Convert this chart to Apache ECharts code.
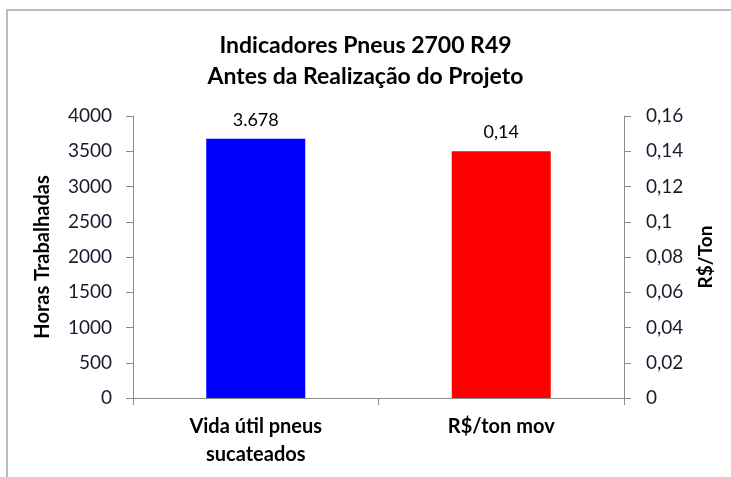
<!DOCTYPE html>
<html>
<head>
<meta charset="utf-8">
<script src="https://cdn.jsdelivr.net/npm/echarts@6/dist/echarts.min.js"></script>
<style>
html, body { margin: 0; padding: 0; background: #fff; }
#chart { width: 731px; height: 477px; }
</style>
</head>
<body>
<div id="chart"></div>
<script>
// dados do gráfico
var categorias = ['Vida útil pneus\nsucateados', 'R$/ton mov'];
var horasTrabalhadas = [3678, '-'];
var custoPorTon = ['-', 0.14];
var ticksEsquerda = [0, 4000, 500];
var ticksDireita = [0, 0.16, 0.02];

var fonte = 'Lato, "Open Sans", sans-serif';
var corTexto = '#1a1a2e';
var corEixo = '#8c8c8c';

var chart = echarts.init(document.getElementById('chart'));

var option = {
	animation: false,
	textStyle: { fontFamily: fonte },
	title: {
		text: 'Indicadores Pneus 2700 R49\nAntes da Realização do Projeto',
		left: 'center',
		top: 25,
		textStyle: {
			fontSize: 23,
			fontWeight: 'bold',
			color: '#000',
			lineHeight: 31,
			fontFamily: fonte
		}
	},
	graphic: [
		{
			type: 'rect',
			shape: { x: 7, y: 10, width: 760, height: 500 },
			style: { fill: 'none', stroke: '#a6a6a6', lineWidth: 1.5 }
		}
	],
	grid: {
		left: 133,
		right: 107,
		top: 116,
		bottom: 79
	},
	xAxis: {
		type: 'category',
		data: categorias,
		axisLine: { lineStyle: { color: corEixo } },
		axisTick: { show: true, length: 7, lineStyle: { color: corEixo } },
		axisLabel: {
			fontSize: 20,
			fontWeight: 'bold',
			color: '#000',
			lineHeight: 28,
			margin: 15,
			fontFamily: fonte
		}
	},
	yAxis: [
		{
			type: 'value',
			min: ticksEsquerda[0],
			max: ticksEsquerda[1],
			interval: ticksEsquerda[2],
			name: 'Horas Trabalhadas',
			nameLocation: 'middle',
			nameGap: 80,
			nameTextStyle: { fontSize: 20, fontWeight: 'bold', color: '#000', fontFamily: fonte },
			axisLine: { show: true, lineStyle: { color: corEixo } },
			axisTick: { show: true, length: 7, lineStyle: { color: corEixo } },
			axisLabel: {
				fontSize: 19,
				color: corTexto,
				margin: 21,
				fontFamily: fonte,
				formatter: function (v) {
					return String(v);
				}
			},
			splitLine: { show: false }
		},
		{
			type: 'value',
			position: 'right',
			min: ticksDireita[0],
			max: ticksDireita[1],
			interval: ticksDireita[2],
			name: 'R$/Ton',
			nameLocation: 'middle',
			nameGap: 72,
			nameRotate: 90,
			nameTextStyle: { fontSize: 19, fontWeight: 'bold', color: '#000', fontFamily: fonte },
			axisLine: { show: true, lineStyle: { color: corEixo } },
			axisTick: { show: true, length: 7, lineStyle: { color: corEixo } },
			axisLabel: {
				fontSize: 19,
				color: corTexto,
				margin: 22,
				fontFamily: fonte,
				formatter: function (v) {
					return String(Math.round(v * 100) / 100).replace('.', ',');
				}
			},
			splitLine: { show: false }
		}
	],
	series: [
		{
			type: 'bar',
			yAxisIndex: 0,
			data: horasTrabalhadas,
			barWidth: 99,
			barGap: '-100%',
			itemStyle: { color: '#0000ff' },
			label: {
				show: true,
				position: 'top',
				distance: 10,
				fontSize: 18,
				color: '#000',
				fontFamily: fonte,
				formatter: function (p) {
					return p.value.toLocaleString('pt-BR');
				}
			}
		},
		{
			type: 'bar',
			yAxisIndex: 1,
			data: custoPorTon,
			barWidth: 99,
			itemStyle: { color: '#ff0000' },
			label: {
				show: true,
				position: 'top',
				distance: 10,
				fontSize: 18,
				color: '#000',
				fontFamily: fonte,
				formatter: function (p) {
					return String(p.value).replace('.', ',');
				}
			}
		}
	]
};

chart.setOption(option);
</script>
</body>
</html>
